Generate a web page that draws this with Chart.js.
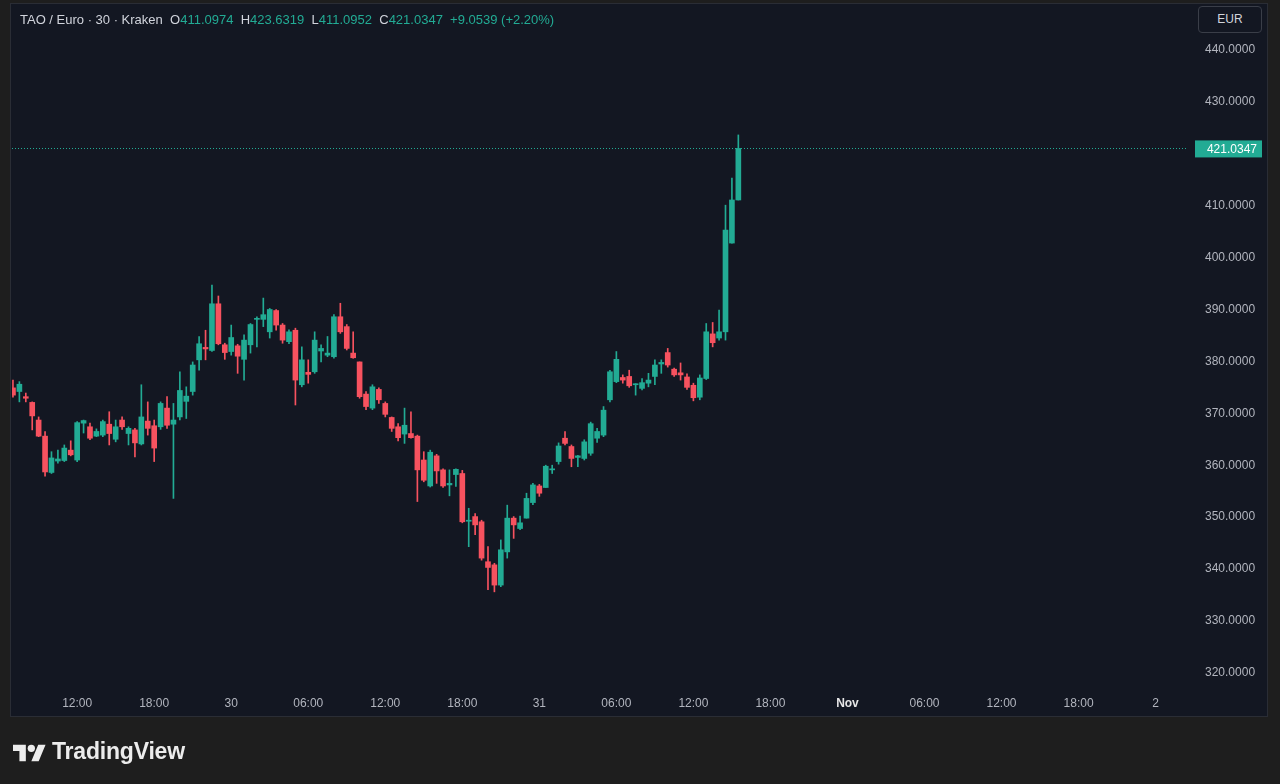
<!DOCTYPE html>
<html>
<head>
<meta charset="utf-8">
<script src="https://cdn.jsdelivr.net/npm/chart.js@4.4.1/dist/chart.umd.min.js"></script>
<style>
  html, body { margin: 0; padding: 0; background: #1e1e1e; }
  body { width: 1280px; height: 784px; position: relative; overflow: hidden; font-family: "Liberation Sans", "DejaVu Sans", sans-serif; }
  #panel { position: absolute; left: 10px; top: 3px; width: 1258px; height: 714px; background: #131722; border: 1px solid #2a2d35; box-sizing: border-box; }
  #chart { position: absolute; left: 0; top: 0; }
  #legend { position: absolute; left: 20px; top: 12px; font-size: 13px; color: #d1d4dc; white-space: pre; }
  #legend .v { color: #22ab94; }
  #eur { position: absolute; left: 1198px; top: 6px; width: 64px; height: 27px; box-sizing: border-box; border: 1px solid #3a3e48; border-radius: 4px; background: #131722; color: #d1d4dc; font-size: 12px; line-height: 25px; text-align: center; }
  #brand { position: absolute; left: 13px; top: 738px; display: flex; align-items: center; color: #ececec; }
  #brand span { font-size: 23px; font-weight: 600; margin-left: 6px; letter-spacing: -0.2px; }
</style>
</head>
<body>
<div id="panel"></div>
<canvas id="chart" width="1280" height="784"></canvas>
<div id="legend">TAO / Euro · 30 · Kraken  O<span class="v">411.0974</span>  H<span class="v">423.6319</span>  L<span class="v">411.0952</span>  C<span class="v">421.0347</span>  <span class="v">+9.0539 (+2.20%)</span></div>
<div id="eur">EUR</div>
<div id="brand">
  <svg width="33" height="22" viewBox="0 0 36 24"><path fill="#ececec" d="M14 22H7V11H0V4h14v18zM28 22h-8l7.5-18h8L28 22z"/><circle fill="#ececec" cx="20" cy="8" r="4"/></svg>
  <span>TradingView</span>
</div>
<script>
// 30 min candles, TAO/EUR, from Oct 29 07:00 to Oct 31 15:30
const opens = [
  374.9, 374.2, 373.2, 372.1, 368.7, 365.6, 358.6, 360.8, 360.9, 362.9,
  361.0, 368.1, 367.4, 365.6, 365.8, 367.9, 365.0, 368.7, 366.1, 366.8,
  364.1, 368.5, 367.6, 367.4, 371.0, 367.9, 369.3, 372.3, 374.2, 380.3,
  382.7, 382.1, 391.1, 383.2, 381.9, 383.0, 380.4, 383.2, 388.1, 388.1,
  385.7, 389.8, 387.0, 383.8, 386.0, 375.5, 377.9, 378.0, 382.0, 381.2,
  380.9, 388.6, 386.7, 381.6, 379.9, 373.7, 371.0, 374.6, 371.9, 369.2,
  367.4, 366.0, 366.1, 365.6, 361.0, 356.0, 361.8, 359.1, 356.2, 358.2,
  358.4, 349.2, 350.1, 349.1, 341.4, 340.8, 336.9, 343.3, 349.8, 347.8,
  349.8, 352.8, 356.0, 355.7, 359.1, 360.7, 365.2, 363.6, 361.5, 361.3,
  362.3, 365.2, 365.8, 372.6, 376.1, 376.9, 377.1, 375.5, 374.8, 375.8,
  377.1, 379.5, 381.7, 378.5, 377.8, 377.0, 375.4, 373.1, 376.7, 385.3,
  384.5, 385.7, 402.8, 411.0974
];
const highs = [
  376.4, 376.1, 373.9, 372.2, 369.3, 366.5, 362.6, 362.9, 363.9, 364.7,
  368.4, 368.7, 368.1, 367.0, 368.7, 370.3, 368.7, 369.3, 367.4, 367.1,
  375.5, 372.2, 368.7, 372.2, 373.2, 371.9, 378.0, 375.1, 379.9, 384.8,
  386.0, 394.7, 392.6, 383.5, 387.0, 383.3, 385.1, 387.3, 388.6, 392.2,
  390.2, 390.0, 387.3, 386.1, 386.4, 382.8, 380.3, 385.7, 383.2, 384.8,
  389.0, 391.2, 387.1, 385.7, 379.9, 374.2, 375.5, 374.9, 372.2, 369.3,
  368.0, 371.0, 370.3, 365.8, 362.6, 362.9, 362.1, 359.3, 359.1, 359.3,
  359.0, 351.7, 350.7, 349.4, 344.3, 341.1, 345.6, 352.3, 350.1, 350.2,
  354.6, 356.5, 356.3, 360.0, 360.0, 364.3, 366.5, 363.9, 361.9, 364.9,
  368.3, 367.1, 371.3, 378.3, 381.9, 377.4, 378.3, 375.7, 376.7, 377.7,
  380.3, 380.3, 382.5, 378.7, 379.7, 377.6, 375.8, 377.4, 387.3, 387.5,
  389.9, 410.1, 415.3, 423.6319
];
const lows = [
  373.1, 372.2, 372.2, 366.8, 365.5, 357.9, 358.4, 360.4, 360.7, 361.8,
  360.7, 366.2, 364.9, 365.5, 365.5, 363.9, 364.5, 366.9, 363.9, 361.6,
  363.9, 365.8, 360.7, 366.9, 367.1, 353.6, 368.7, 369.0, 373.5, 378.3,
  380.3, 381.9, 383.2, 380.4, 381.2, 377.7, 376.4, 381.6, 382.8, 386.7,
  384.5, 386.0, 383.5, 383.4, 371.6, 375.1, 375.8, 377.7, 379.9, 380.9,
  380.6, 385.4, 382.2, 380.6, 372.9, 370.7, 370.7, 371.9, 369.3, 366.5,
  364.7, 364.2, 365.2, 353.0, 356.8, 355.8, 356.5, 355.7, 354.1, 355.9,
  348.9, 344.3, 346.6, 341.7, 336.0, 335.6, 336.6, 342.1, 345.9, 347.6,
  349.8, 352.4, 354.0, 355.7, 358.4, 360.2, 363.9, 359.7, 359.7, 361.0,
  361.9, 364.4, 365.5, 372.2, 375.9, 375.8, 375.0, 373.5, 374.5, 375.1,
  375.5, 377.7, 378.9, 377.1, 376.4, 374.6, 372.4, 372.6, 376.5, 382.8,
  384.1, 384.1, 402.8, 411.0952
];
const closes = [
  373.5, 375.6, 372.9, 369.5, 365.6, 358.7, 361.4, 361.2, 363.3, 362.0,
  368.2, 368.6, 365.2, 366.5, 368.4, 366.1, 367.4, 367.4, 367.1, 364.3,
  369.3, 367.1, 363.3, 371.9, 367.7, 368.7, 374.4, 373.3, 379.3, 383.4,
  382.4, 391.1, 383.4, 381.7, 384.6, 381.0, 384.1, 387.1, 388.3, 389.0,
  390.0, 387.0, 384.1, 385.7, 376.4, 380.3, 377.5, 384.1, 382.5, 381.6,
  388.6, 385.7, 382.5, 380.7, 373.2, 371.3, 375.1, 372.6, 369.8, 367.1,
  365.3, 367.7, 365.3, 359.1, 357.1, 362.5, 358.9, 356.0, 356.5, 359.2,
  349.1, 349.4, 348.5, 342.1, 340.3, 336.9, 343.7, 349.8, 348.5, 348.9,
  353.6, 356.2, 354.6, 359.8, 359.3, 363.7, 364.2, 361.3, 361.8, 364.5,
  368.0, 366.5, 370.6, 378.0, 380.4, 376.4, 375.3, 375.7, 375.9, 376.4,
  379.3, 379.8, 379.3, 377.4, 377.4, 375.0, 373.0, 376.8, 385.7, 383.6,
  385.7, 405.3, 411.1, 421.0347
];

// axis ticks
const priceTicks = [320, 330, 340, 350, 360, 370, 380, 390, 400, 410, 420, 430, 440];
const timeTickIdx = [10, 22, 34, 46, 58, 70, 82, 94, 106, 118, 130, 142, 154, 166, 178];
const timeLabels = ['12:00', '18:00', '30', '06:00', '12:00', '18:00', '31', '06:00', '12:00', '18:00', 'Nov', '06:00', '12:00', '18:00', '2'];

const upColor = '#22ab94';
const downColor = '#f7525f';

const colors = opens.map((o, i) => closes[i] >= o ? upColor : downColor);
const wicks = opens.map((o, i) => ({ x: i, y: [lows[i], highs[i]] }));
const bodies = opens.map((o, i) => ({ x: i, y: [o, closes[i]] }));
const lastClose = closes[closes.length - 1];

const lastPricePlugin = {
    id: 'lastPrice',
    afterDatasetsDraw(chart) {
        const ctx = chart.ctx;
        const area = chart.chartArea;
        const y = Math.round(chart.scales.y.getPixelForValue(lastClose)) + 0.5;
        ctx.save();
        ctx.strokeStyle = upColor;
        ctx.lineWidth = 1;
        ctx.setLineDash([1, 2]);
        ctx.beginPath();
        ctx.moveTo(area.left, y);
        ctx.lineTo(area.right, y);
        ctx.stroke();
        ctx.restore();
    },
    afterDraw(chart) {
        // price label on the right scale
        const ctx = chart.ctx;
        const y = chart.scales.y.getPixelForValue(lastClose);
        ctx.save();
        ctx.fillStyle = upColor;
        ctx.fillRect(1195, y - 8, 67, 17);
        ctx.fillStyle = '#ffffff';
        ctx.font = '12px "Liberation Sans", sans-serif';
        ctx.textAlign = 'right';
        ctx.textBaseline = 'middle';
        ctx.fillText(lastClose.toFixed(4), 1257, y + 1);
        ctx.restore();
    }
};

let priceChart;
function initChart() {
    const ctx = document.getElementById('chart').getContext('2d');
    priceChart = new Chart(ctx, {
        type: 'bar',
        data: {
            datasets: [{
                label: 'wick',
                data: wicks,
                backgroundColor: colors,
                barThickness: 1,
                grouped: false,
                order: 2
            }, {
                label: 'body',
                data: bodies,
                backgroundColor: colors,
                barThickness: 5,
                minBarLength: 1,
                grouped: false,
                order: 1
            }]
        },
        options: {
            responsive: false,
            animation: false,
            events: [],
            layout: { padding: { left: 12, top: 30, right: 12, bottom: 67 } },
            plugins: {
                legend: { display: false },
                tooltip: { enabled: false }
            },
            scales: {
                x: {
                    type: 'linear',
                    offset: false,
                    min: -0.15,
                    max: 183.05,
                    grid: { display: false, drawTicks: false, offset: false },
                    border: { display: false },
                    afterBuildTicks: (scale) => {
                        scale.ticks = timeTickIdx.map(v => ({ value: v }));
                    },
                    afterFit: (scale) => {
                        scale.height = 28;
                        scale.paddingLeft = 0;
                        scale.paddingRight = 0;
                    },
                    ticks: {
                        autoSkip: false,
                        maxRotation: 0,
                        padding: 7,
                        color: (c) => timeLabels[c.index] === 'Nov' ? '#e6e6e6' : '#b2b5be',
                        font: (c) => ({ family: '"Liberation Sans", sans-serif', size: 12, weight: timeLabels[c.index] === 'Nov' ? 'bold' : 'normal' }),
                        callback: (v, i) => timeLabels[i]
                    }
                },
                y: {
                    position: 'right',
                    min: 316.88,
                    max: 443.85,
                    grid: { display: false, drawTicks: false },
                    border: { display: false },
                    afterBuildTicks: (scale) => {
                        scale.ticks = priceTicks.map(v => ({ value: v }));
                    },
                    afterFit: (scale) => { scale.width = 80; },
                    ticks: {
                        padding: 17,
                        color: '#b2b5be',
                        font: { family: '"Liberation Sans", sans-serif', size: 12 },
                        callback: (v) => Number(v).toFixed(4)
                    }
                }
            }
        },
        plugins: [lastPricePlugin]
    });
}

document.addEventListener('DOMContentLoaded', () => {
    initChart();
});
</script>
</body>
</html>
